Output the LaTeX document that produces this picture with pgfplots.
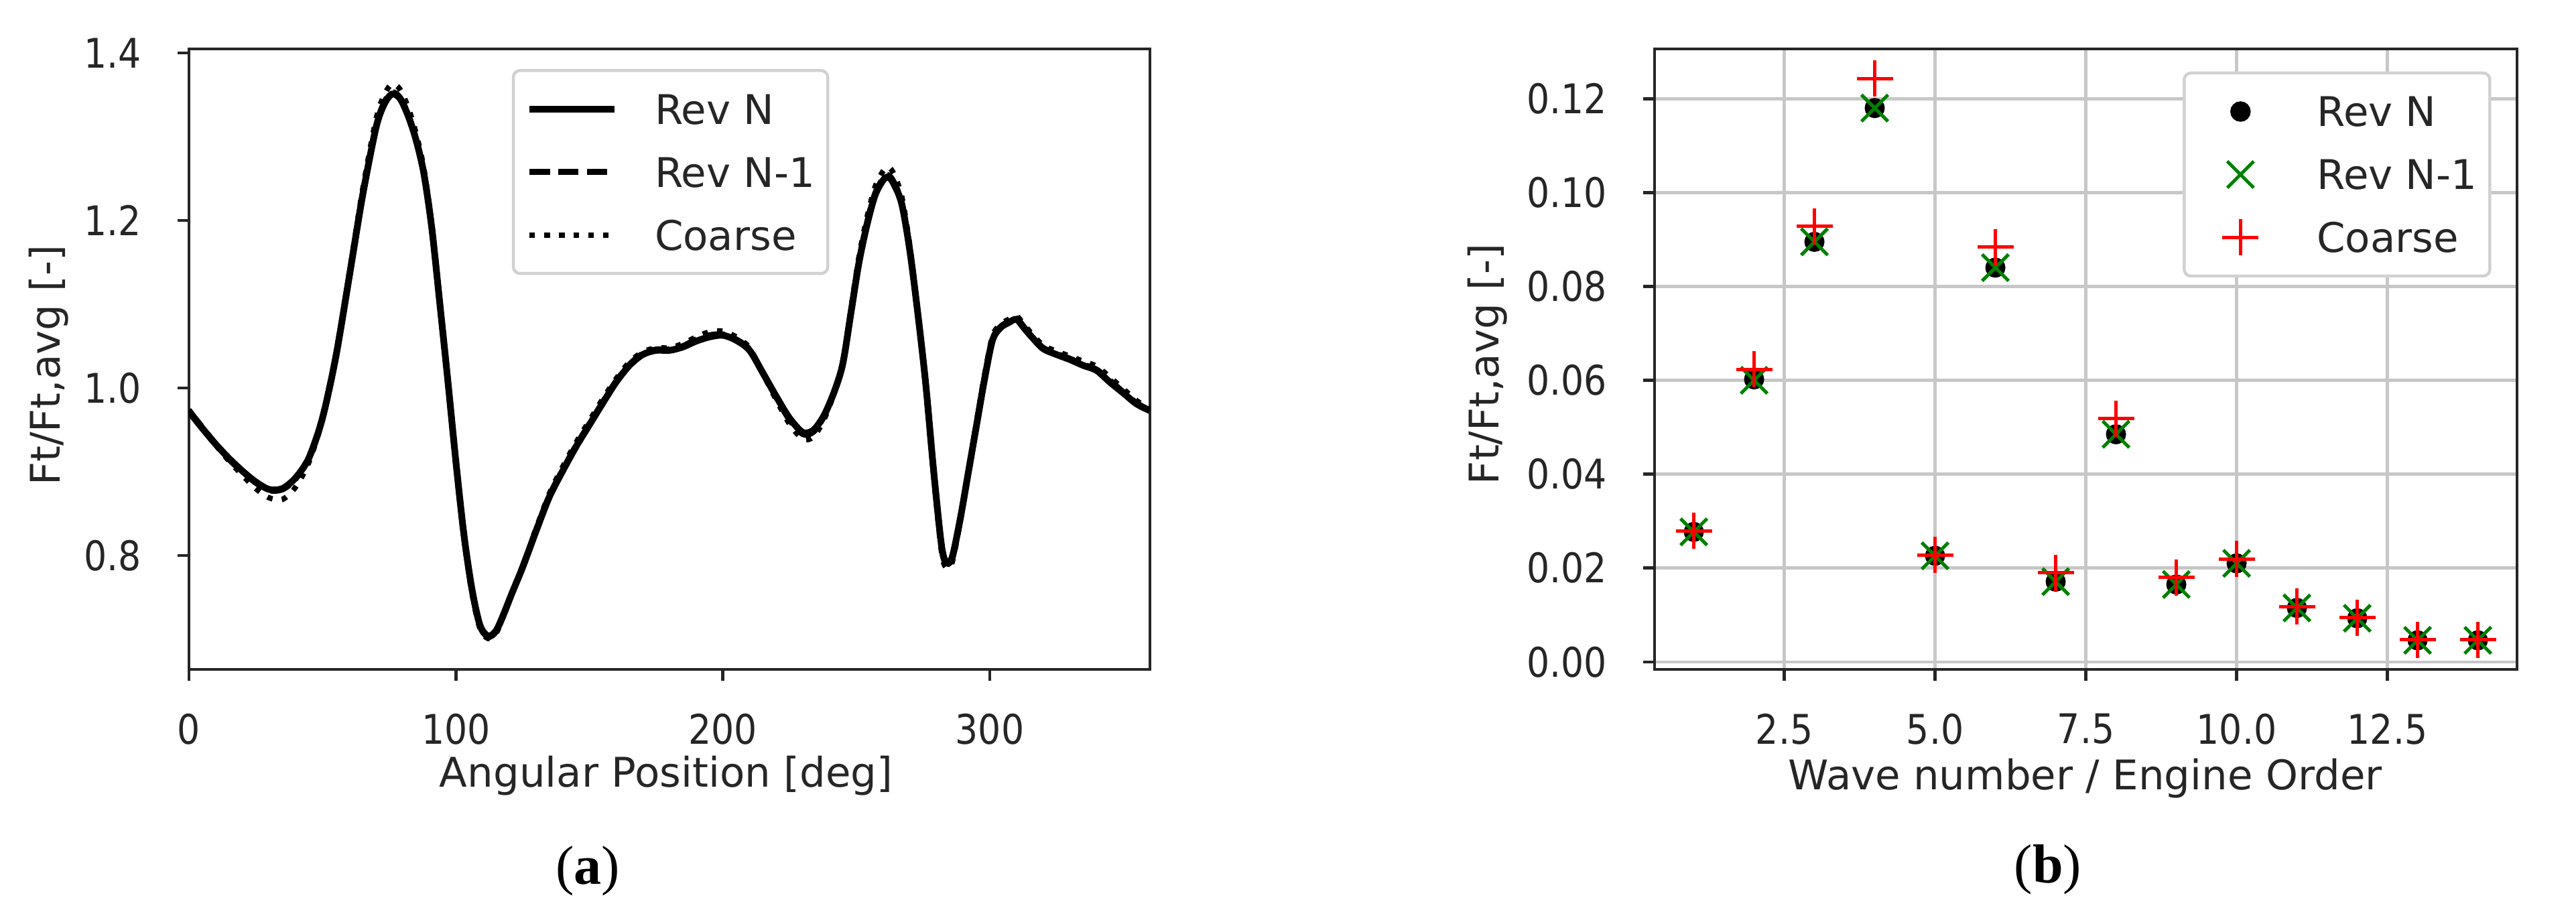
\documentclass[border=0pt]{standalone}
\usepackage{fontspec}
\setmainfont{DejaVu Sans}
\newfontfamily\tickfont{DejaVu Sans}[FakeStretch=0.88]
\newfontfamily\capfont{Liberation Serif}
\usepackage{pgfplots}
\usepackage{pgfplotstable}
\pgfplotsset{compat=1.18}
\definecolor{mplgreen}{RGB}{0,128,0}
\definecolor{mplred}{RGB}{255,0,0}
\definecolor{txt}{gray}{0.15}
\newcommand{\fs}{\fontsize{6.1}{7.3}\selectfont}
\newcommand{\tfs}{\tickfont\fontsize{6.1}{7.3}\selectfont}

\pgfplotstableread{
x y
0 0.972
5 0.952
10 0.933
15 0.916
20 0.901
25 0.888
30 0.879
35 0.880
40 0.893
45 0.917
50 0.964
55 1.037
60 1.132
65 1.229
70 1.310
73 1.338
76 1.351
79 1.346
82 1.326
85 1.297
88 1.256
91 1.190
94 1.100
97 1.008
100 0.912
103 0.825
106 0.760
109 0.717
112 0.704
115 0.710
118 0.731
121 0.755
125 0.786
130 0.829
135 0.870
140 0.901
145 0.930
150 0.956
155 0.982
160 1.007
165 1.027
170 1.040
175 1.045
180 1.045
185 1.049
190 1.056
195 1.061
200 1.063
205 1.057
210 1.045
215 1.018
220 0.990
225 0.964
230 0.947
234 0.950
238 0.968
242 0.998
245 1.030
248 1.090
251 1.150
254 1.195
257 1.230
260 1.248
262 1.252
264 1.244
267 1.220
270 1.165
273 1.090
276 1.005
279 0.900
282 0.810
284 0.791
286 0.799
289 0.845
292 0.900
295 0.955
298 1.010
301 1.057
304 1.072
307 1.078
310 1.082
313 1.071
316 1.060
320 1.047
325 1.040
330 1.034
335 1.027
340 1.021
345 1.007
350 0.994
355 0.981
360 0.973
}\revn

\pgfplotstableread{
x y
0 0.973
5 0.953
10 0.933
15 0.915
20 0.900
25 0.887
30 0.878
35 0.879
40 0.892
45 0.918
50 0.965
55 1.038
60 1.133
65 1.230
70 1.311
73 1.340
76 1.353
79 1.347
82 1.327
85 1.298
88 1.257
91 1.191
94 1.101
97 1.008
100 0.911
103 0.824
106 0.759
109 0.716
112 0.703
115 0.709
118 0.730
121 0.755
125 0.787
130 0.830
135 0.871
140 0.902
145 0.931
150 0.957
155 0.983
160 1.008
165 1.028
170 1.041
175 1.046
180 1.046
185 1.050
190 1.058
195 1.063
200 1.064
205 1.058
210 1.046
215 1.018
220 0.989
225 0.962
230 0.945
234 0.948
238 0.967
242 0.998
245 1.031
248 1.091
251 1.151
254 1.197
257 1.232
260 1.250
262 1.254
264 1.246
267 1.221
270 1.166
273 1.090
276 1.004
279 0.899
282 0.808
284 0.789
286 0.797
289 0.844
292 0.900
295 0.956
298 1.011
301 1.058
304 1.073
307 1.079
310 1.083
313 1.072
316 1.061
320 1.048
325 1.041
330 1.035
335 1.028
340 1.022
345 1.009
350 0.995
355 0.982
360 0.973
}\revnm

\pgfplotstableread{
x y
0 0.974
5 0.953
10 0.932
15 0.913
20 0.896
25 0.880
30 0.869
35 0.867
40 0.882
45 0.912
50 0.962
55 1.038
60 1.136
65 1.236
70 1.320
73 1.349
76 1.363
79 1.357
82 1.336
85 1.305
88 1.262
91 1.194
94 1.102
97 1.007
100 0.909
103 0.821
106 0.755
109 0.713
112 0.701
115 0.707
118 0.729
121 0.754
125 0.787
130 0.832
135 0.874
140 0.906
145 0.935
150 0.961
155 0.987
160 1.011
165 1.031
170 1.043
175 1.048
180 1.048
185 1.053
190 1.061
195 1.067
200 1.068
205 1.061
210 1.048
215 1.017
220 0.986
225 0.957
230 0.939
234 0.942
238 0.963
242 0.997
245 1.032
248 1.095
251 1.157
254 1.204
257 1.240
260 1.259
262 1.264
264 1.256
267 1.229
270 1.171
273 1.091
276 1.002
279 0.894
282 0.802
284 0.785
286 0.793
289 0.842
292 0.901
295 0.959
298 1.015
301 1.062
304 1.076
307 1.082
310 1.086
313 1.075
316 1.064
320 1.051
325 1.044
330 1.038
335 1.032
340 1.026
345 1.013
350 0.999
355 0.985
360 0.975
}\coarse

\pgfplotstableread{
n revn revnm coarse
1 0.0277 0.0277 0.0279
2 0.0602 0.0600 0.0623
3 0.0895 0.0895 0.0928
4 0.1180 0.1180 0.1243
5 0.0226 0.0226 0.0228
6 0.0840 0.0840 0.0884
7 0.0171 0.0171 0.0190
8 0.0485 0.0485 0.0518
9 0.0165 0.0165 0.0180
10 0.0210 0.0210 0.0219
11 0.0115 0.0115 0.0118
12 0.0093 0.0093 0.0094
13 0.0046 0.0046 0.0047
14 0.0046 0.0046 0.0047
}\wave

\pgfplotsset{
  common/.style={
    scale only axis, height=92.6pt,
    axis line style={txt, line width=0.45pt},
    tick align=outside, major tick length=1.7pt,
    xtick pos=bottom, ytick pos=left,
    tick style={txt, line width=0.45pt},
    every tick label/.append style={font=\tfs, text=txt, inner sep=0pt},
    /pgf/number format/assume math mode=true,
    label style={font=\fs, text=txt},
    xticklabel style={anchor=center, yshift=-7.2pt},
    yticklabel style={anchor=east, xshift=-5.2pt},
    scaled ticks=false,
    legend cell align=left,
  },
  mylegend/.style={
    draw=black!18, line width=0.45pt, fill=white, rounded corners=1pt,
    inner xsep=1.9pt, inner ysep=2.3pt,
    row sep=2.5pt, column sep=5.5pt,
    nodes={inner sep=0pt, text height=5.7pt, text depth=1.2pt},
    font=\fs, text=txt,
  },
}

\begin{document}
\begin{tikzpicture}
\path[use as bounding box] (0,0) rectangle (384.4pt,137.2pt);

\begin{axis}[common,
  at={(28.2pt,37.3pt)}, anchor=south west, width=143.4pt,
  xmin=0, xmax=360, ymin=0.664, ymax=1.405,
  xtick={0,100,200,300}, ytick={0.8,1.0,1.2,1.4},
  yticklabel style={/pgf/number format/fixed, /pgf/number format/fixed zerofill, /pgf/number format/precision=1},
  xlabel={Angular Position [deg]}, ylabel={Ft/Ft,avg [-]},
  xlabel style={at={(axis description cs:0.4965,-0.1717)}, anchor=center},
  ylabel style={at={(axis description cs:-0.1457,0.49)}, anchor=center},
  legend style={mylegend, at={(axis description cs:0.336,0.9676)}, anchor=north west},
  legend image code/.code={\path[draw=none, fill=none] (0pt,-1pt) rectangle (12.7pt,1pt);
    \draw[#1] plot coordinates {(0pt,0pt) (12.7pt,0pt)};},
]
\addplot[black, line width=1.0pt, smooth] table[x=x, y=y] {\revn};
\addplot[black, line width=0.9pt, dash pattern=on 3pt off 1.3pt, smooth] table[x=x, y=y] {\revnm};
\addplot[black, line width=0.8pt, dash pattern=on 0.8pt off 1.4pt, smooth] table[x=x, y=y] {\coarse};
\legend{Rev N, Rev N-1, Coarse}
\end{axis}

\begin{axis}[common,
  at={(246.9pt,37.3pt)}, anchor=south west, width=128.7pt,
  xmin=0.35, xmax=14.65, ymin=-0.0016, ymax=0.1306,
  xtick={2.5,5,7.5,10,12.5}, ytick={0,0.02,0.04,0.06,0.08,0.10,0.12},
  xticklabel style={/pgf/number format/fixed, /pgf/number format/fixed zerofill, /pgf/number format/precision=1},
  yticklabel style={/pgf/number format/fixed, /pgf/number format/fixed zerofill, /pgf/number format/precision=2},
  grid=major, major grid style={black!22, line width=0.45pt},
  xlabel={Wave number / Engine Order}, ylabel={Ft/Ft,avg [-]},
  xlabel style={at={(axis description cs:0.4992,-0.176)}, anchor=center},
  ylabel style={at={(axis description cs:-0.1935,0.492)}, anchor=center},
  legend style={mylegend, at={(axis description cs:0.6123,0.9636)}, anchor=north west, column sep=3.9pt},
  legend image code/.code={\path[draw=none, fill=none] (0pt,-2.8pt) rectangle (14pt,2.8pt);
    \draw[#1] plot coordinates {(6.5pt,0pt)};},
]
\addplot[only marks, mark=*, mark size=1.3pt, black] table[x=n, y=revn] {\wave};
\addplot[only marks, mark=x, mark size=2.8pt, mplgreen, mark options={line width=0.5pt}] table[x=n, y=revnm] {\wave};
\addplot[only marks, mark=+, mark size=2.7pt, mplred, mark options={line width=0.5pt}] table[x=n, y=coarse] {\wave};
\legend{Rev N, Rev N-1, Coarse}
\end{axis}

\node[font=\capfont\fontsize{8.2}{9.5}\selectfont, text=black] at (87.7pt,7.2pt) {(\textbf{a})};
\node[font=\capfont\fontsize{8.2}{9.5}\selectfont, text=black] at (305.6pt,7.4pt) {(\textbf{b})};
\end{tikzpicture}
\end{document}
